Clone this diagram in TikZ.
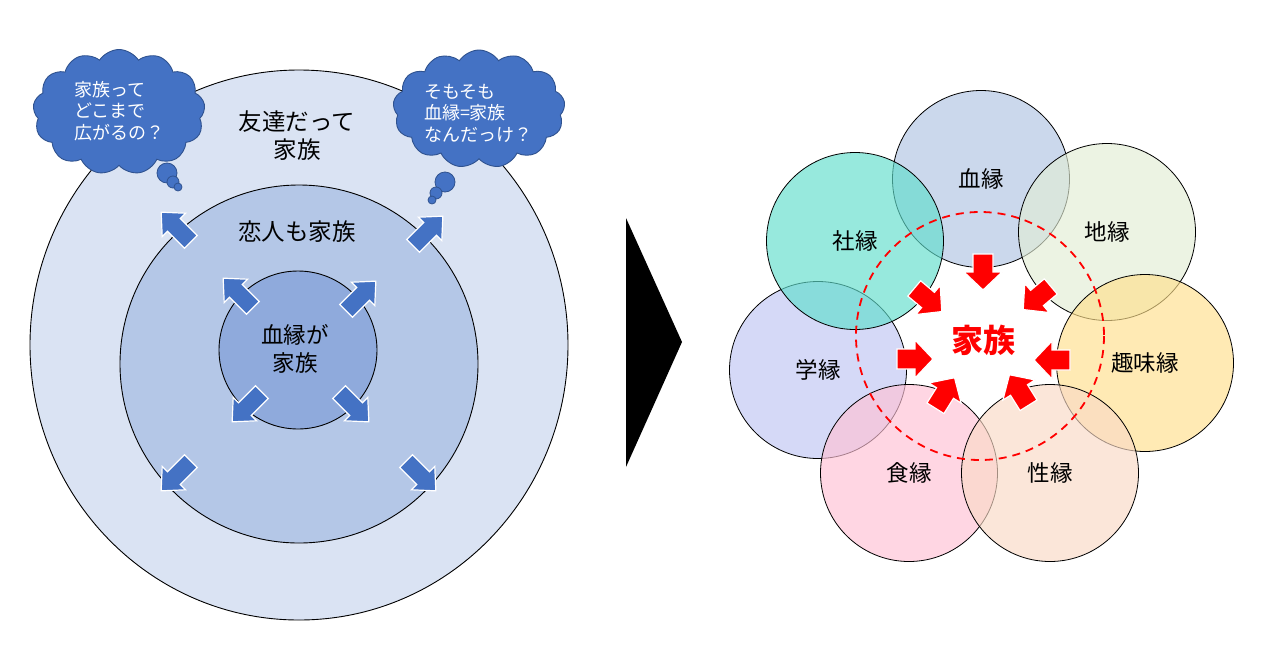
\documentclass[tikz,border=0pt]{standalone}
\usepackage{fontspec}
\setmainfont{Noto Sans CJK JP}
\usetikzlibrary{shapes.symbols}
\definecolor{outerfill}{HTML}{DAE3F3}
\definecolor{midfill}{HTML}{B4C7E7}
\definecolor{innerfill}{HTML}{8FAADC}
\definecolor{bluearr}{HTML}{4472C4}
\definecolor{cloudline}{HTML}{2F528F}
\definecolor{cA}{HTML}{B0C4E3}
\definecolor{cB}{HTML}{60DECC}
\definecolor{cC}{HTML}{E2EDD5}
\definecolor{cD}{HTML}{FFE08C}
\definecolor{cE}{HTML}{C0C6F4}
\definecolor{cF}{HTML}{FFC1D5}
\definecolor{cG}{HTML}{F9DAC6}
\definecolor{redarr}{HTML}{FF0000}
\newcommand{\blockarr}[8]{%
  \begin{scope}[shift={(#1,#2)}, rotate=#3]
    \filldraw[fill=#8, draw=white, line width=1.2pt, line join=miter]
      ({-#4/2},{#6/2}) -- ({#4/2-#7},{#6/2}) -- ({#4/2-#7},{#5/2}) -- ({#4/2},0)
      -- ({#4/2-#7},{-#5/2}) -- ({#4/2-#7},{-#6/2}) -- ({-#4/2},{-#6/2}) -- cycle;
  \end{scope}}
\begin{document}
\begin{tikzpicture}[x=1pt,y=-1pt,
  ring/.style={draw=black, line width=0.9pt},
  bigtxt/.style={font=\fontsize{23.5}{28}\selectfont, align=center, text=black},
  cloudtxt/.style={font=\fontsize{18}{21.5}\selectfont, align=left, text=white},
  thought/.style={cloud, cloud puffs=13, cloud puff arc=115, aspect=1.4, draw=cloudline, line width=0.9pt, fill=bluearr, inner sep=0pt},
  bubble/.style={draw=cloudline, line width=0.8pt, fill=bluearr},
  ycircle/.style={circle, draw=black, line width=0.8pt, minimum size=177, inner sep=0pt, fill opacity=0.65, text opacity=1, font=\fontsize{22.5}{26}\selectfont},
  famtxt/.style={font=\fontsize{32}{36}\selectfont\bfseries, text=redarr}
]
\useasboundingbox (0,0) rectangle (1280,670);
\fill[white] (0,0) rectangle (1280,670);

% ---------- left: concentric circles ----------
\filldraw[ring, fill=outerfill] (299,345) ellipse [x radius=269, y radius=275];
\filldraw[ring, fill=midfill] (299,364) circle [radius=179];
\filldraw[ring, fill=innerfill] (298,350) circle [radius=79];

\node[bigtxt] (friends) at (297,136) {友達だって\\家族};
\node[bigtxt] (lovers) at (297,232) {恋人も家族};
\node[bigtxt, font=\fontsize{22.5}{28}\selectfont] (blood) at (295,349) {血縁が\\家族};

% blue arrows (outer ring)
\blockarr{176}{227}{135}{42}{33}{18}{18}{bluearr}
\blockarr{428}{231}{45}{42}{33}{18}{18}{bluearr}
\blockarr{176}{476}{-135}{42}{33}{18}{18}{bluearr}
\blockarr{421}{476}{-45}{42}{33}{18}{18}{bluearr}
% blue arrows (inner circle)
\blockarr{238}{293}{135}{42}{33}{18}{18}{bluearr}
\blockarr{361}{296}{45}{42}{33}{18}{18}{bluearr}
\blockarr{247}{407}{-135}{42}{33}{18}{18}{bluearr}
\blockarr{354}{407}{-45}{42}{33}{18}{18}{bluearr}

% thought clouds
\node[thought, minimum width=172, minimum height=125] (cloudL) at (119,112) {};
\filldraw[bubble] (167,173) circle [radius=10];
\filldraw[bubble] (173,182) circle [radius=6];
\filldraw[bubble] (178,187) circle [radius=4];
\node[cloudtxt] (cloudLtxt) at (119,111) {家族って\\どこまで\\広がるの？};

\node[thought, minimum width=172, minimum height=118] (cloudR) at (479,109) {};
\filldraw[bubble] (445,182) circle [radius=10];
\filldraw[bubble] (436,193) circle [radius=6];
\filldraw[bubble] (432,200) circle [radius=4];
\node[cloudtxt] (cloudRtxt) at (478,113) {そもそも\\血縁=家族\\なんだっけ？};

% ---------- separator triangle ----------
\fill[black] (626,218) -- (682,342) -- (626,467) -- cycle;

% ---------- right: seven circles ----------
\node[ycircle, fill=cA] (ketsuen) at (981,179) {血縁};
\node[ycircle, fill=cC] (chien) at (1107,232) {地縁};
\node[ycircle, fill=cD] (shumi) at (1145,363) {趣味縁};
\node[ycircle, fill=cE] (gaku) at (818,370) {学縁};
\node[ycircle, fill=cB] (sha) at (855,241) {社縁};
\node[ycircle, fill=cF] (shoku) at (909,473) {食縁};
\node[ycircle, fill=cG] (sei) at (1050,473) {性縁};

\draw[redarr, line width=1.8pt, dash pattern=on 8pt off 6pt] (980,336) circle [radius=124];

% red arrows
\blockarr{983}{272}{-90}{36}{38}{20}{18}{redarr}
\blockarr{1037}{298}{-140}{36}{38}{20}{18}{redarr}
\blockarr{1052}{360}{180}{36}{38}{20}{18}{redarr}
\blockarr{1019}{390}{122}{36}{38}{20}{18}{redarr}
\blockarr{945}{393}{58}{36}{38}{20}{18}{redarr}
\blockarr{915}{359}{0}{36}{38}{20}{18}{redarr}
\blockarr{928}{300}{-40}{36}{38}{20}{18}{redarr}

\node[famtxt] (family) at (983,340) {家族};
\end{tikzpicture}
\end{document}
